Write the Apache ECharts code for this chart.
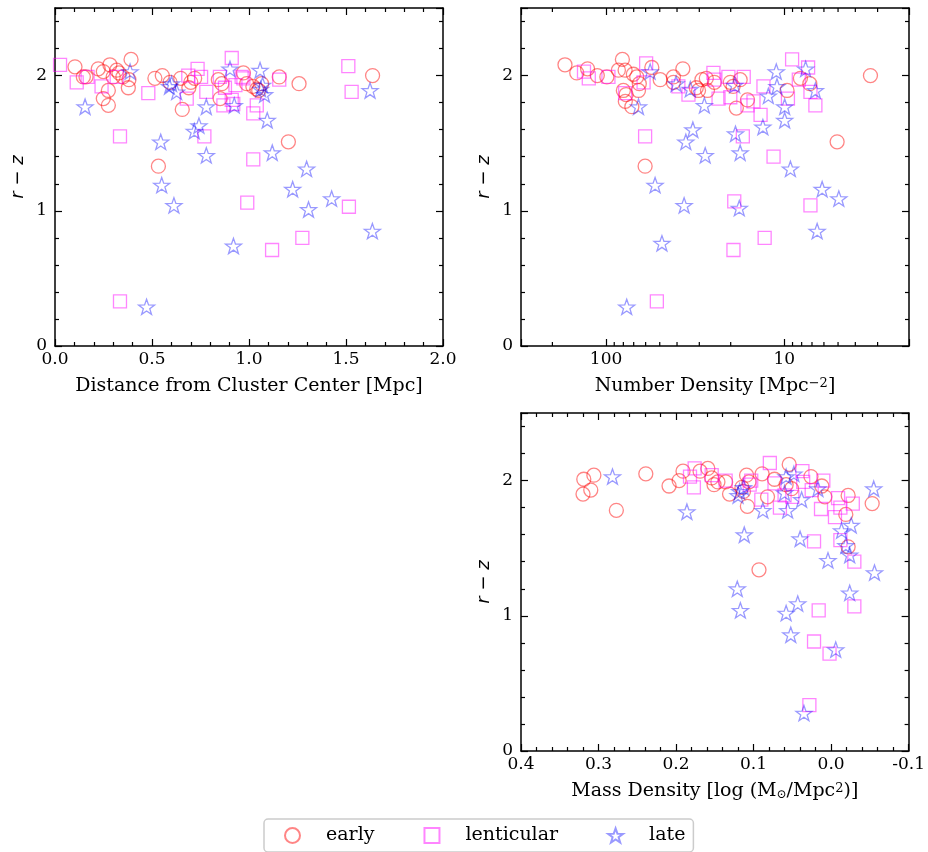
<!DOCTYPE html>
<html>
<head>
<meta charset="utf-8">
<script src="https://cdn.jsdelivr.net/npm/echarts@6/dist/echarts.min.js"></script>
<style>
html,body{margin:0;padding:0;background:#fff;}
#chart{width:928px;height:852px;}
</style>
</head>
<body>
<div id="chart"></div>
<script>
// ---------- Panel 1: distance from cluster center [Mpc] vs r-z ----------
const earlyDist   = [0.103,0.146,0.16,0.223,0.249,0.283,0.318,0.30,0.33,0.35,0.275,0.249,0.275,0.378,0.381,0.392,0.515,0.553,0.593,0.648,0.656,0.70,0.72,0.69,0.842,0.851,0.86,0.971,0.988,1.02,1.04,1.05,1.065,1.156,1.258,1.637,0.533,1.203];
const earlyDistRz = [2.065,1.99,1.99,2.05,2.03,2.08,2.04,1.99,2.02,1.99,1.89,1.83,1.78,1.91,1.97,2.12,1.98,2.0,1.95,1.98,1.75,1.95,1.98,1.91,1.97,1.83,1.94,2.02,1.94,1.92,1.90,1.89,1.94,1.99,1.94,2.0,1.33,1.51];
const lentDist    = [0.026,0.112,0.168,0.24,0.318,0.481,0.687,0.735,0.753,0.679,0.78,0.85,0.911,0.876,0.868,0.919,0.911,0.93,0.962,0.971,1.04,1.022,1.156,1.512,1.529,0.335,0.335,0.77,0.991,1.022,1.119,1.275,1.515];
const lentDistRz  = [2.08,1.95,1.99,1.92,1.99,1.87,2.0,2.05,1.99,1.83,1.88,1.99,2.13,1.91,1.78,1.79,1.82,1.93,1.99,1.98,1.78,1.72,1.97,2.07,1.88,1.55,0.33,1.55,1.06,1.38,0.71,0.80,1.03];
const lateDist    = [0.155,0.387,0.601,0.627,0.59,0.78,0.902,0.924,1.057,1.07,1.08,1.06,1.624,0.545,0.55,0.613,0.472,0.718,0.742,0.78,0.92,1.094,1.12,1.225,1.297,1.307,1.426,1.636];
const lateDistRz  = [1.77,2.03,1.94,1.88,1.92,1.77,2.05,1.78,2.04,1.93,1.86,1.90,1.89,1.51,1.19,1.04,0.29,1.59,1.63,1.41,0.74,1.67,1.43,1.16,1.31,1.01,1.09,0.85];

// ---------- Panel 2: number density [Mpc^-2] vs r-z ----------
const earlyNd   = [170,146,127,112,99,85.3,81,78.2,80,77.2,78,71.7,70.3,67.3,65.1,65.8,55.4,49.7,60.4,41.9,37.1,41.9,31.2,30.3,29.0,27.4,27.0,24.7,20.1,19.4,17.7,18.6,16.1,9.66,8.13,7.2,5.06,3.29];
const earlyNdRz = [2.08,2.02,2.05,2.0,1.99,2.04,2.12,2.04,1.89,1.86,1.81,1.77,2.01,1.99,1.94,1.89,2.06,1.97,1.33,1.99,2.05,1.95,1.91,1.89,1.97,1.98,1.89,1.95,1.95,1.92,1.97,1.76,1.82,1.89,1.98,1.94,1.51,2.0];
const lentNd    = [133,125,97,59.6,61.6,60.4,51.9,78.2,39.3,34.5,25.0,24.7,23.4,20.6,20.1,16.9,17.1,19.1,19.3,16.1,14.9,13.6,13.1,11.5,12.9,9.55,9.05,8.3,7.36,7.14,6.7,7.14];
const lentNdRz  = [2.03,1.98,1.99,2.09,1.95,1.55,0.33,1.87,1.92,1.86,2.02,1.97,1.83,1.99,1.84,1.99,1.55,1.07,0.71,1.78,1.81,1.71,1.92,1.40,0.80,1.83,2.12,1.97,2.06,1.88,1.78,1.04];
const lateNd    = [65.8,56.6,40.5,33.7,28.1,32.6,35.7,27.8,53.1,36.5,48.6,76.6,19.0,18.8,17.7,17.9,13.2,12.3,11.1,11.0,9.96,9.96,9.25,7.6,6.7,6.14,4.95,6.55];
const lateNdRz  = [1.77,2.03,1.94,1.90,1.78,1.60,1.51,1.41,1.19,1.04,0.76,0.29,1.93,1.57,1.43,1.02,1.62,1.85,2.03,1.92,1.77,1.67,1.31,2.05,1.89,1.16,1.09,0.85];
const ndMinorTicks = [3,4,5,6,7,8,9,20,30,40,50,60,70,80,90,200];

// ---------- Panel 3: mass density [log(Msun/Mpc^2)] vs r-z ----------
const earlyMd   = [0.319,0.306,0.320,0.310,0.277,0.239,0.209,0.196,0.191,0.169,0.159,0.154,0.151,0.146,0.136,0.131,0.109,0.106,0.113,0.115,0.108,0.093,0.089,0.082,0.073,0.054,0.058,0.051,0.026,0.012,0.008,-0.022,-0.019,-0.022,-0.053];
const earlyMdRz = [2.01,2.04,1.90,1.93,1.78,2.05,1.96,2.0,2.07,2.07,2.09,2.02,1.97,1.99,1.99,1.90,2.04,1.99,1.92,1.95,1.81,1.34,2.05,1.88,2.01,2.12,1.97,1.94,2.03,1.96,1.88,1.89,1.75,1.51,1.83];
const lentMd    = [0.176,0.182,0.177,0.154,0.136,0.103,0.105,0.090,0.079,0.073,0.066,0.060,0.050,0.037,0.036,0.010,0.025,0.013,-0.009,-0.005,-0.012,-0.028,0.022,-0.012,-0.030,0.016,-0.030,0.022,0.002,0.028];
const lentMdRz  = [2.09,2.03,1.95,2.04,2.0,2.0,1.97,1.86,2.13,1.98,1.80,1.89,1.88,2.07,1.99,2.0,1.93,1.79,1.87,1.73,1.80,1.83,1.55,1.56,1.40,1.04,1.07,0.81,0.72,0.34];
const lateMd    = [0.282,0.186,0.118,0.120,0.113,0.112,0.121,0.117,0.088,0.058,0.048,0.060,0.056,0.038,0.040,0.043,0.058,0.052,0.035,0.017,0.004,-0.0135,-0.026,-0.019,-0.024,-0.024,-0.006,-0.055,-0.056];
const lateMdRz  = [2.03,1.77,1.92,1.89,1.95,1.60,1.20,1.04,1.78,2.03,2.05,1.91,1.78,1.86,1.57,1.09,1.02,0.86,0.28,1.94,1.41,1.63,1.67,1.52,1.45,1.17,0.75,1.94,1.32];

// ---------- labels ----------
const typeNames = ['early','lenticular','late'];
const yName = 'r \u2212 z';
const xNames = ['Distance from Cluster Center [Mpc]', 'Number Density [Mpc{sup|\u22122}]', 'Mass Density [log (M{sub|\u2299}/Mpc{sup|2})]'];

const SERIF = 'DejaVu Serif';
const starPath = 'path://M0,-10 L2.35,-3.24 L9.51,-3.09 L3.8,1.24 L5.88,8.09 L0,4 L-5.88,8.09 L-3.8,1.24 L-9.51,-3.09 L-2.35,-3.24 Z';
const styles = {
  early:      {symbol:'circle', size:14, stroke:'rgba(255,0,0,0.6)'},
  lenticular: {symbol:'rect',   size:13, stroke:'rgba(255,0,255,0.6)'},
  late:       {symbol:starPath, size:16, stroke:'rgba(0,0,255,0.5)'}
};
const zip = (a,b) => a.map((v,i)=>[v,b[i]]);

const grids = [
  {left:55, top:8, width:388, height:338},
  {left:521, top:8, width:388, height:338},
  {left:521, top:413, width:388, height:338}
];

const lineStyle = {color:'#000', width:1.5};
const tickStyle = {color:'#000', width:1.2};
const labelStyle = {color:'#000', fontFamily:SERIF, fontSize:17};
const rich = {
  sup:{fontFamily:SERIF, fontSize:13, lineHeight:13, verticalAlign:'top', color:'#000'},
  sub:{fontFamily:SERIF, fontSize:12, lineHeight:12, verticalAlign:'bottom', color:'#000'}
};
const fmt1 = v => Math.abs(v) < 1e-9 ? '0.0' : v.toFixed(1);

function linX(gi, min, max, interval, top, inverse) {
  return {
    type:'value', gridIndex:gi, position: top ? 'top' : 'bottom', min, max, interval, inverse: !!inverse,
    axisLine:{show:true, onZero:false, lineStyle},
    axisTick:{show:true, inside:true, length:7, lineStyle:tickStyle},
    minorTick:{show:true, splitNumber:5, length:4, lineStyle:tickStyle},
    splitLine:{show:false},
    axisLabel:{show:!top, margin:5, formatter:fmt1, ...labelStyle}
  };
}
function logX(gi, top) {
  return {
    type:'log', logBase:10, gridIndex:gi, position: top ? 'top' : 'bottom', min:2, max:300, inverse:true,
    axisLine:{show:true, onZero:false, lineStyle},
    axisTick:{show:true, inside:true, length:7, lineStyle:tickStyle},
    minorTick:{show:false},
    splitLine:{show:false},
    axisLabel:{show:!top, margin:5, ...labelStyle,
      formatter: v => (Math.abs(v-10)<1e-6 ? '10' : (Math.abs(v-100)<1e-4 ? '100' : ''))}
  };
}
function yAx(gi, right) {
  return {
    type:'value', gridIndex:gi, position: right ? 'right' : 'left', min:0, max:2.5, interval:1,
    axisLine:{show:true, onZero:false, lineStyle},
    axisTick:{show:true, inside:true, length:7, lineStyle:tickStyle},
    minorTick:{show:true, splitNumber:5, length:4, lineStyle:tickStyle},
    splitLine:{show:false},
    axisLabel:{show:!right, margin:8, showMaxLabel:false, ...labelStyle,
      formatter: v => (Math.abs(v - Math.round(v)) < 1e-9 ? String(Math.round(v)) : '')},
    name: right ? '' : yName, nameLocation:'middle', nameRotate:90, nameGap:28,
    nameTextStyle:{fontFamily:'DejaVu Sans', fontStyle:'italic', fontSize:18, color:'#000'}
  };
}

const xAxis = [
  {...linX(0, 0, 2, 0.5, false), name:xNames[0]},
  linX(0, 0, 2, 0.5, true),
  {...logX(1, false), name:xNames[1]},
  logX(1, true),
  {...linX(2, -0.1, 0.4, 0.1, false, true), name:xNames[2]},
  linX(2, -0.1, 0.4, 0.1, true, true)
];
[0,2,4].forEach(i => {
  xAxis[i].nameLocation = 'middle';
  xAxis[i].nameGap = 31;
  xAxis[i].nameTextStyle = {fontFamily:SERIF, fontSize:19, color:'#000', rich};
});
const yAxis = [yAx(0,false), yAx(0,true), yAx(1,false), yAx(1,true), yAx(2,false), yAx(2,true)];

const panelData = [
  [zip(earlyDist,earlyDistRz), zip(lentDist,lentDistRz), zip(lateDist,lateDistRz)],
  [zip(earlyNd,earlyNdRz), zip(lentNd,lentNdRz), zip(lateNd,lateNdRz)],
  [zip(earlyMd,earlyMdRz), zip(lentMd,lentMdRz), zip(lateMd,lateMdRz)]
];

const series = [];
panelData.forEach((sets, p) => {
  sets.forEach((d, t) => {
    const st = styles[typeNames[t]];
    series.push({
      type:'scatter', name:typeNames[t], xAxisIndex:p*2, yAxisIndex:p*2,
      data:d, symbol:st.symbol, symbolSize:st.size, symbolKeepAspect:true,
      itemStyle:{color:'rgba(0,0,0,0)', borderColor:st.stroke, borderWidth:1.3},
      emphasis:{disabled:true}, silent:true, z:3
    });
  });
});
// logarithmic minor ticks for the number-density axis
series.push({
  type:'custom', name:'ndMinor', xAxisIndex:2, yAxisIndex:2, silent:true, z:5,
  data: ndMinorTicks.map(v => [v, 1]),
  renderItem: (params, api) => {
    const x = api.coord([api.value(0), 1])[0];
    const cs = params.coordSys;
    const s = {stroke:'#000', lineWidth:1.2};
    return {type:'group', children:[
      {type:'line', shape:{x1:x, y1:cs.y+cs.height, x2:x, y2:cs.y+cs.height-4}, style:s},
      {type:'line', shape:{x1:x, y1:cs.y, x2:x, y2:cs.y+4}, style:s}
    ]};
  }
});

const chart = echarts.init(document.getElementById('chart'), null, {renderer:'canvas'});
chart.setOption({
  animation:false,
  backgroundColor:'#fff',
  grid:grids,
  xAxis, yAxis, series,
  legend:{
    data:typeNames, left:264, top:819, orient:'horizontal',
    padding:[7,8,7,20], itemGap:49, itemWidth:15, itemHeight:15,
    backgroundColor:'rgba(255,255,255,0.8)', borderColor:'#cccccc', borderWidth:1.5, borderRadius:4,
    textStyle:{fontFamily:SERIF, fontSize:19, color:'#000', padding:[0,0,0,21]},
    selectedMode:false
  }
});
</script>
</body>
</html>
